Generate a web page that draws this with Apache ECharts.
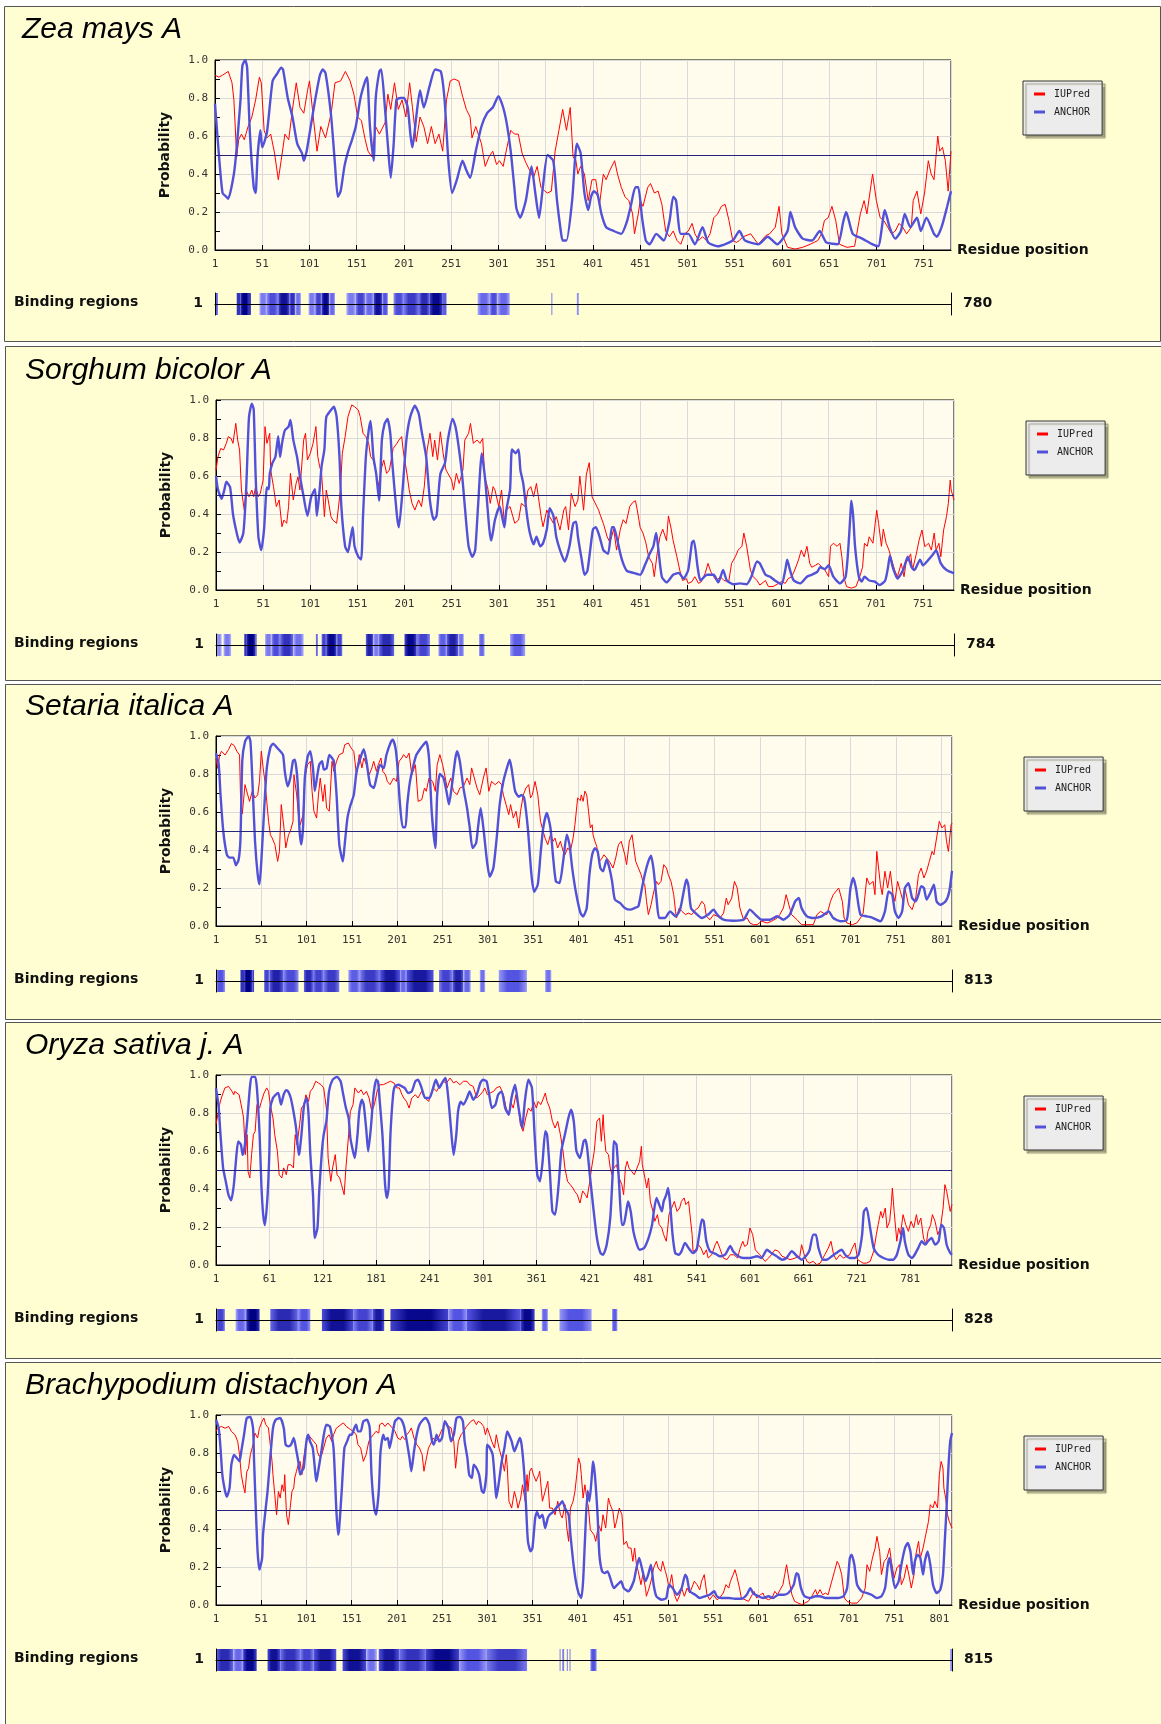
<!DOCTYPE html>
<html><head><meta charset="utf-8">
<script src="https://cdn.jsdelivr.net/npm/echarts@6/dist/echarts.min.js"></script>
<style>html,body{margin:0;padding:0;background:#ffffff}#c{width:1161px;height:1724px}</style>
</head><body><div id="c"></div>
<script>
// ---------------- DATA ----------------
const speciesNames = ['Zea mays A', 'Sorghum bicolor A', 'Setaria italica A', 'Oryza sativa j. A', 'Brachypodium distachyon A'];
const seqLengths = [780, 784, 813, 828, 815];
const tickIntervals = [50, 50, 50, 60, 50];
const seriesNames = ['IUPred', 'ANCHOR'];
const thresholdValue = 0.5;

const zeaIUPred = [[1,0.92],[5,0.91],[9,0.92],[15,0.94],[19,0.88],[21,0.79],[24,0.49],[26,0.58],[29,0.61],[32,0.58],[36,0.65],[40,0.70],[44,0.79],[48,0.91],[50,0.88],[53,0.63],[56,0.59],[60,0.61],[64,0.51],[68,0.37],[71,0.47],[75,0.61],[79,0.58],[83,0.74],[87,0.88],[91,0.75],[95,0.72],[99,0.84],[101,0.89],[105,0.70],[109,0.52],[113,0.65],[118,0.59],[124,0.72],[128,0.88],[134,0.89],[139,0.94],[144,0.89],[148,0.82],[152,0.70],[156,0.68],[160,0.58],[163,0.52],[167,0.49],[171,0.65],[175,0.61],[181,0.67],[184,0.82],[187,0.74],[191,0.88],[195,0.74],[199,0.79],[203,0.70],[207,0.88],[210,0.75],[214,0.57],[218,0.70],[222,0.65],[226,0.56],[230,0.65],[234,0.56],[238,0.61],[242,0.52],[246,0.79],[250,0.89],[254,0.90],[259,0.89],[263,0.81],[267,0.74],[271,0.70],[273,0.59],[277,0.65],[283,0.56],[287,0.44],[291,0.49],[295,0.52],[299,0.45],[302,0.47],[306,0.44],[310,0.54],[314,0.63],[318,0.61],[322,0.61],[326,0.51],[330,0.46],[334,0.42],[338,0.38],[342,0.44],[346,0.33],[350,0.31],[353,0.30],[357,0.31],[361,0.52],[365,0.63],[369,0.74],[373,0.63],[377,0.75],[380,0.49],[383,0.47],[385,0.40],[388,0.44],[392,0.40],[396,0.26],[400,0.37],[404,0.37],[408,0.24],[412,0.40],[415,0.37],[419,0.42],[424,0.47],[427,0.40],[431,0.33],[435,0.28],[439,0.26],[443,0.19],[445,0.085],[449,0.19],[451,0.26],[454,0.23],[459,0.33],[462,0.35],[466,0.30],[470,0.31],[474,0.24],[478,0.10],[482,0.07],[486,0.10],[490,0.05],[494,0.03],[498,0.085],[502,0.10],[506,0.14],[509,0.085],[513,0.05],[517,0.07],[521,0.05],[525,0.085],[529,0.17],[533,0.19],[537,0.23],[541,0.24],[545,0.155],[549,0.05],[553,0.04],[556,0.05],[560,0.07],[568,0.085],[576,0.03],[584,0.076],[588,0.085],[594,0.12],[598,0.23],[601,0.085],[607,0.014],[615,0.005],[623,0.014],[631,0.03],[639,0.05],[643,0.085],[646,0.155],[650,0.17],[654,0.23],[656,0.24],[658,0.155],[662,0.03],[670,0.014],[678,0.02],[684,0.19],[688,0.26],[691,0.19],[697,0.40],[701,0.26],[705,0.17],[709,0.155],[713,0.12],[717,0.085],[721,0.10],[725,0.14],[729,0.12],[733,0.085],[738,0.12],[740,0.26],[744,0.31],[748,0.19],[752,0.30],[756,0.47],[759,0.40],[762,0.37],[766,0.60],[768,0.52],[771,0.54],[774,0.47],[777,0.31],[780,0.52]];
const zeaANCHOR = [[1,0.77],[5,0.51],[9,0.30],[13,0.28],[15,0.27],[21,0.40],[24,0.54],[28,0.79],[30,0.97],[33,1.0],[35,0.96],[38,0.61],[42,0.33],[44,0.30],[46,0.49],[49,0.63],[51,0.54],[56,0.62],[62,0.89],[67,0.93],[71,0.96],[73,0.95],[78,0.80],[83,0.70],[88,0.56],[93,0.51],[95,0.47],[98,0.52],[101,0.61],[107,0.79],[112,0.92],[115,0.95],[118,0.93],[124,0.70],[128,0.45],[131,0.28],[134,0.31],[138,0.44],[142,0.52],[146,0.58],[150,0.65],[155,0.80],[160,0.89],[162,0.91],[165,0.65],[169,0.47],[171,0.79],[175,0.94],[177,0.95],[181,0.74],[184,0.55],[187,0.38],[190,0.55],[193,0.79],[197,0.80],[201,0.80],[205,0.75],[208,0.60],[210,0.54],[214,0.70],[218,0.84],[222,0.75],[228,0.86],[234,0.95],[240,0.94],[244,0.79],[248,0.47],[252,0.30],[257,0.37],[263,0.47],[267,0.42],[271,0.38],[277,0.52],[283,0.65],[289,0.72],[295,0.75],[301,0.81],[306,0.75],[310,0.66],[314,0.52],[318,0.32],[320,0.22],[324,0.17],[330,0.26],[336,0.44],[340,0.30],[344,0.17],[348,0.33],[353,0.50],[359,0.47],[363,0.26],[367,0.10],[369,0.05],[373,0.05],[379,0.26],[384,0.56],[388,0.51],[392,0.30],[396,0.21],[399,0.28],[402,0.31],[406,0.29],[410,0.19],[415,0.12],[423,0.10],[431,0.085],[437,0.15],[441,0.23],[446,0.33],[449,0.33],[453,0.17],[457,0.05],[461,0.03],[468,0.085],[476,0.05],[482,0.15],[486,0.28],[489,0.26],[494,0.085],[502,0.085],[509,0.03],[517,0.12],[523,0.04],[533,0.02],[549,0.05],[556,0.10],[562,0.05],[576,0.03],[586,0.07],[596,0.03],[607,0.10],[610,0.20],[615,0.12],[623,0.06],[633,0.05],[641,0.10],[648,0.04],[660,0.03],[666,0.15],[669,0.20],[676,0.085],[686,0.06],[697,0.03],[703,0.02],[710,0.21],[715,0.12],[721,0.06],[727,0.10],[731,0.19],[737,0.12],[744,0.17],[748,0.10],[754,0.17],[762,0.085],[765,0.07],[770,0.12],[776,0.23],[780,0.31]];
const zeaBinding = [[1,4,0.45],[24,28,0.7],[28,37,1.0],[37,39,0.7],[48,56,0.3],[56,68,0.55],[68,80,0.9],[80,86,0.7],[86,92,0.35],[100,107,0.3],[107,114,0.6],[114,122,0.95],[122,128,0.4],[140,150,0.3],[150,160,0.6],[160,169,0.4],[169,178,0.9],[178,184,0.5],[190,201,0.55],[201,217,0.65],[217,228,0.75],[228,242,0.95],[242,246,0.45],[279,292,0.4],[292,300,0.55],[300,313,0.4],[357,358,0.3],[384,386,0.2]];

const sorghumIUPred = [[1,0.63],[3,0.70],[6,0.745],[9,0.737],[12,0.772],[14,0.807],[17,0.798],[19,0.772],[22,0.877],[24,0.789],[26,0.737],[28,0.526],[31,0.421],[33,0.526],[36,0.491],[39,0.526],[41,0.491],[43,0.544],[46,0.491],[48,0.509],[51,0.579],[53,0.86],[55,0.772],[58,0.825],[59,0.632],[62,0.544],[65,0.439],[68,0.474],[71,0.333],[73,0.368],[76,0.351],[78,0.439],[80,0.614],[83,0.474],[86,0.561],[88,0.596],[90,0.526],[94,0.789],[96,0.825],[98,0.684],[101,0.719],[104,0.772],[107,0.86],[109,0.702],[111,0.649],[113,0.614],[116,0.386],[118,0.526],[120,0.474],[123,0.386],[125,0.368],[129,0.351],[133,0.526],[135,0.719],[138,0.807],[141,0.912],[145,0.974],[148,0.965],[152,0.947],[154,0.912],[157,0.825],[160,0.807],[163,0.772],[165,0.702],[168,0.684],[171,0.614],[173,0.544],[177,0.649],[179,0.684],[182,0.614],[185,0.632],[189,0.745],[193,0.772],[195,0.789],[198,0.807],[200,0.719],[203,0.632],[206,0.526],[209,0.456],[212,0.421],[216,0.474],[219,0.439],[222,0.544],[225,0.737],[228,0.825],[231,0.702],[233,0.789],[236,0.684],[239,0.833],[242,0.719],[245,0.632],[247,0.614],[251,0.579],[253,0.526],[256,0.614],[259,0.561],[263,0.632],[265,0.789],[269,0.825],[271,0.877],[274,0.772],[278,0.789],[281,0.772],[284,0.798],[286,0.596],[289,0.544],[292,0.456],[295,0.544],[297,0.526],[301,0.439],[304,0.526],[307,0.351],[309,0.421],[313,0.439],[316,0.386],[318,0.351],[322,0.368],[325,0.456],[329,0.439],[332,0.526],[335,0.544],[338,0.491],[341,0.561],[343,0.491],[346,0.386],[348,0.333],[352,0.421],[355,0.386],[359,0.351],[362,0.386],[366,0.316],[370,0.421],[372,0.439],[375,0.316],[378,0.509],[382,0.439],[385,0.474],[387,0.60],[391,0.42],[394,0.61],[397,0.67],[400,0.49],[403,0.46],[407,0.42],[409,0.39],[412,0.35],[416,0.28],[419,0.25],[423,0.32],[426,0.21],[430,0.32],[433,0.37],[436,0.35],[440,0.44],[443,0.46],[446,0.47],[448,0.42],[451,0.33],[454,0.30],[457,0.25],[460,0.175],[464,0.14],[466,0.07],[469,0.19],[472,0.28],[475,0.32],[479,0.26],[481,0.39],[484,0.32],[486,0.26],[490,0.175],[493,0.105],[496,0.05],[500,0.06],[502,0.035],[506,0.044],[509,0.07],[513,0.035],[516,0.044],[520,0.088],[523,0.14],[526,0.096],[529,0.07],[532,0.05],[536,0.07],[540,0.05],[545,0.044],[548,0.14],[552,0.175],[555,0.21],[559,0.23],[561,0.30],[564,0.23],[568,0.105],[571,0.07],[575,0.05],[578,0.026],[584,0.05],[587,0.018],[592,0.018],[598,0.035],[601,0.044],[605,0.035],[608,0.06],[612,0.07],[615,0.105],[619,0.158],[622,0.21],[625,0.175],[628,0.23],[631,0.14],[633,0.12],[637,0.13],[640,0.14],[644,0.12],[647,0.105],[651,0.07],[653,0.23],[656,0.246],[660,0.23],[663,0.246],[665,0.175],[667,0.07],[670,0.018],[675,0.01],[680,0.018],[684,0.07],[687,0.12],[689,0.246],[692,0.23],[694,0.28],[698,0.246],[702,0.42],[704,0.35],[707,0.23],[709,0.32],[712,0.246],[715,0.21],[717,0.175],[721,0.105],[724,0.07],[728,0.14],[731,0.07],[733,0.14],[738,0.19],[740,0.105],[744,0.19],[747,0.263],[750,0.316],[753,0.228],[757,0.246],[760,0.21],[763,0.30],[765,0.21],[768,0.246],[770,0.175],[773,0.316],[776,0.386],[778,0.456],[780,0.579],[781,0.526],[784,0.474]];
const sorghumANCHOR = [[1,0.60],[3,0.53],[7,0.48],[10,0.53],[12,0.57],[16,0.54],[19,0.40],[23,0.30],[26,0.25],[30,0.30],[33,0.53],[36,0.91],[39,0.98],[41,0.95],[43,0.61],[46,0.28],[49,0.21],[52,0.32],[55,0.54],[57,0.53],[58,0.61],[61,0.67],[64,0.70],[67,0.81],[69,0.70],[71,0.77],[74,0.84],[78,0.86],[80,0.895],[83,0.79],[87,0.70],[90,0.60],[94,0.49],[98,0.39],[102,0.49],[106,0.53],[108,0.39],[111,0.53],[113,0.65],[116,0.74],[118,0.91],[123,0.947],[126,0.965],[129,0.91],[132,0.70],[134,0.44],[138,0.23],[141,0.20],[144,0.28],[146,0.33],[148,0.23],[152,0.175],[155,0.16],[157,0.39],[160,0.70],[163,0.84],[165,0.89],[168,0.70],[171,0.61],[174,0.47],[177,0.79],[180,0.877],[183,0.90],[186,0.82],[188,0.67],[193,0.39],[195,0.33],[199,0.53],[203,0.79],[207,0.91],[212,0.97],[216,0.93],[219,0.84],[224,0.70],[228,0.47],[232,0.37],[235,0.39],[239,0.61],[244,0.67],[247,0.79],[252,0.90],[255,0.86],[258,0.77],[262,0.61],[265,0.44],[269,0.23],[273,0.175],[276,0.21],[279,0.44],[283,0.72],[285,0.65],[287,0.56],[291,0.32],[293,0.26],[297,0.37],[302,0.44],[304,0.40],[307,0.33],[309,0.42],[313,0.53],[315,0.74],[319,0.72],[322,0.74],[324,0.63],[327,0.56],[331,0.39],[334,0.30],[338,0.24],[341,0.28],[345,0.23],[348,0.246],[352,0.32],[355,0.43],[359,0.39],[362,0.28],[366,0.21],[371,0.15],[376,0.23],[380,0.35],[383,0.36],[385,0.28],[389,0.16],[392,0.08],[395,0.10],[398,0.21],[401,0.32],[404,0.33],[408,0.28],[412,0.21],[417,0.19],[421,0.33],[423,0.33],[426,0.28],[430,0.19],[433,0.14],[437,0.10],[444,0.09],[451,0.08],[456,0.13],[461,0.19],[465,0.23],[468,0.30],[470,0.23],[474,0.07],[479,0.04],[486,0.08],[492,0.09],[497,0.06],[502,0.105],[506,0.25],[508,0.26],[512,0.12],[515,0.05],[522,0.08],[529,0.08],[534,0.04],[539,0.105],[543,0.05],[550,0.03],[557,0.035],[564,0.03],[569,0.07],[575,0.15],[578,0.14],[584,0.08],[589,0.07],[594,0.05],[601,0.03],[605,0.105],[607,0.16],[610,0.105],[614,0.05],[621,0.035],[628,0.07],[633,0.08],[639,0.096],[642,0.12],[647,0.11],[651,0.13],[656,0.07],[663,0.035],[669,0.07],[672,0.23],[674,0.39],[675,0.47],[677,0.39],[679,0.23],[683,0.07],[686,0.044],[689,0.07],[694,0.05],[700,0.044],[705,0.026],[711,0.05],[714,0.12],[716,0.18],[719,0.12],[724,0.06],[730,0.105],[735,0.175],[739,0.12],[742,0.105],[748,0.16],[751,0.13],[757,0.16],[762,0.19],[765,0.21],[770,0.14],[776,0.105],[784,0.088]];
const sorghumBinding = [[1,7,0.2],[9,17,0.3],[31,33,0.7],[33,43,1.0],[43,44,0.6],[53,60,0.3],[60,69,0.55],[69,83,0.7],[83,94,0.35],[107,109,0.4],[113,118,0.6],[118,129,0.95],[129,135,0.6],[160,168,0.8],[168,174,0.3],[174,190,0.75],[201,214,0.95],[214,228,0.6],[237,246,0.45],[246,258,0.8],[258,264,0.35],[280,286,0.4],[313,329,0.45]];

const setariaIUPred = [[1,0.88],[3,0.83],[5,0.90],[7,0.92],[11,0.90],[15,0.93],[18,0.96],[21,0.95],[24,0.92],[27,0.90],[28,0.69],[30,0.59],[33,0.744],[36,0.69],[38,0.656],[41,0.709],[44,0.674],[47,0.69],[49,0.761],[51,0.92],[53,0.832],[55,0.761],[57,0.656],[59,0.551],[61,0.48],[63,0.463],[66,0.428],[69,0.34],[71,0.393],[73,0.639],[76,0.516],[78,0.411],[81,0.48],[83,0.498],[86,0.551],[87,0.796],[90,0.69],[92,0.586],[94,0.533],[97,0.586],[99,0.779],[102,0.849],[105,0.867],[107,0.709],[109,0.604],[112,0.568],[114,0.69],[116,0.779],[119,0.656],[121,0.744],[123,0.621],[126,0.604],[129,0.867],[131,0.814],[134,0.867],[137,0.902],[141,0.91],[143,0.954],[147,0.963],[150,0.937],[153,0.919],[156,0.796],[159,0.902],[162,0.832],[164,0.884],[167,0.849],[170,0.796],[173,0.832],[175,0.867],[178,0.814],[180,0.849],[183,0.884],[185,0.814],[188,0.796],[190,0.761],[193,0.744],[197,0.779],[200,0.761],[203,0.867],[206,0.884],[208,0.902],[211,0.884],[214,0.91],[217,0.796],[221,0.849],[224,0.656],[228,0.665],[231,0.726],[233,0.709],[236,0.779],[240,0.761],[243,0.709],[245,0.849],[248,0.902],[251,0.849],[254,0.779],[256,0.726],[260,0.779],[263,0.709],[267,0.691],[270,0.726],[274,0.735],[278,0.779],[281,0.744],[283,0.832],[286,0.779],[289,0.726],[292,0.691],[296,0.779],[299,0.832],[302,0.709],[305,0.761],[309,0.744],[313,0.761],[316,0.744],[318,0.691],[321,0.639],[324,0.586],[326,0.639],[329,0.568],[332,0.604],[335,0.516],[337,0.604],[340,0.69],[343,0.726],[346,0.744],[348,0.674],[350,0.691],[353,0.761],[356,0.691],[359,0.551],[361,0.516],[364,0.463],[367,0.428],[370,0.481],[373,0.446],[375,0.463],[378,0.411],[381,0.446],[384,0.393],[386,0.375],[389,0.411],[392,0.393],[395,0.463],[397,0.533],[400,0.674],[403,0.66],[404,0.69],[406,0.656],[408,0.71],[410,0.69],[412,0.604],[414,0.516],[416,0.533],[417,0.48],[419,0.446],[421,0.42],[424,0.34],[427,0.358],[429,0.375],[432,0.358],[435,0.34],[439,0.305],[442,0.358],[445,0.428],[448,0.446],[450,0.411],[452,0.375],[454,0.323],[457,0.446],[460,0.48],[462,0.411],[464,0.34],[467,0.305],[470,0.27],[472,0.235],[474,0.218],[476,0.13],[478,0.06],[481,0.112],[484,0.182],[487,0.235],[489,0.218],[492,0.235],[495,0.323],[498,0.305],[500,0.27],[503,0.235],[506,0.165],[508,0.077],[509,0.042],[512,0.095],[515,0.077],[519,0.06],[522,0.068],[526,0.06],[530,0.086],[533,0.095],[537,0.13],[540,0.112],[542,0.051],[546,0.033],[550,0.06],[554,0.051],[557,0.042],[561,0.068],[564,0.147],[566,0.112],[570,0.147],[573,0.235],[576,0.2],[579,0.095],[583,0.033],[587,0.042],[590,0.016],[594,0.007],[598,0.007],[603,0.025],[609,0.016],[614,0.025],[620,0.042],[623,0.06],[627,0.095],[630,0.165],[633,0.112],[636,0.06],[642,0.033],[647,0.007],[653,0.007],[660,0.007],[664,0.06],[668,0.077],[671,0.068],[675,0.06],[679,0.13],[682,0.165],[684,0.156],[688,0.2],[692,0.13],[694,0.042],[697,0.016],[703,0.007],[708,0.016],[712,0.042],[715,0.068],[719,0.253],[722,0.218],[726,0.235],[728,0.165],[730,0.393],[732,0.305],[734,0.218],[736,0.165],[739,0.288],[742,0.2],[745,0.288],[748,0.165],[750,0.13],[753,0.235],[756,0.182],[759,0.13],[761,0.2],[765,0.112],[769,0.086],[773,0.147],[776,0.27],[779,0.305],[782,0.253],[785,0.288],[788,0.34],[791,0.393],[793,0.375],[796,0.463],[799,0.551],[802,0.516],[805,0.533],[807,0.446],[809,0.393],[812,0.533],[813,0.541]];
const setariaANCHOR = [[1,0.91],[4,0.85],[6,0.69],[9,0.50],[13,0.375],[16,0.36],[20,0.36],[23,0.32],[26,0.35],[28,0.46],[30,0.87],[33,0.97],[37,1.0],[39,0.97],[41,0.78],[44,0.45],[47,0.27],[49,0.22],[51,0.34],[54,0.60],[57,0.83],[61,0.94],[64,0.96],[68,0.94],[72,0.92],[75,0.90],[77,0.81],[80,0.735],[83,0.78],[86,0.87],[88,0.875],[91,0.76],[93,0.516],[95,0.43],[97,0.516],[99,0.78],[102,0.89],[105,0.92],[108,0.83],[110,0.71],[113,0.80],[115,0.85],[118,0.867],[120,0.823],[123,0.83],[126,0.90],[129,0.884],[131,0.867],[134,0.69],[137,0.43],[141,0.34],[143,0.43],[146,0.568],[149,0.63],[153,0.69],[156,0.81],[160,0.88],[164,0.93],[167,0.867],[171,0.744],[175,0.726],[178,0.78],[182,0.849],[186,0.83],[189,0.90],[194,0.97],[196,0.98],[199,0.937],[201,0.849],[204,0.64],[207,0.52],[210,0.52],[212,0.64],[215,0.76],[219,0.849],[222,0.90],[226,0.93],[230,0.955],[233,0.97],[236,0.884],[239,0.60],[243,0.41],[245,0.69],[248,0.80],[252,0.78],[256,0.69],[258,0.64],[261,0.73],[265,0.88],[267,0.92],[270,0.867],[274,0.726],[278,0.62],[281,0.516],[284,0.41],[288,0.437],[290,0.516],[293,0.62],[296,0.516],[300,0.34],[303,0.26],[307,0.305],[311,0.48],[314,0.64],[318,0.76],[322,0.832],[325,0.875],[327,0.832],[331,0.71],[335,0.68],[338,0.69],[341,0.674],[345,0.516],[349,0.27],[352,0.18],[356,0.218],[359,0.375],[362,0.516],[366,0.595],[370,0.516],[373,0.358],[376,0.235],[380,0.226],[384,0.34],[388,0.48],[391,0.428],[394,0.305],[398,0.18],[403,0.07],[406,0.05],[410,0.095],[413,0.27],[416,0.375],[419,0.41],[422,0.393],[425,0.305],[428,0.288],[432,0.35],[435,0.305],[438,0.235],[441,0.14],[447,0.12],[452,0.095],[458,0.086],[463,0.095],[467,0.104],[471,0.2],[474,0.27],[478,0.34],[481,0.37],[484,0.288],[487,0.147],[490,0.042],[496,0.042],[502,0.077],[508,0.051],[513,0.086],[517,0.182],[520,0.245],[522,0.218],[525,0.095],[530,0.068],[537,0.042],[544,0.06],[550,0.086],[554,0.06],[561,0.033],[572,0.028],[583,0.033],[590,0.086],[596,0.06],[603,0.033],[612,0.033],[620,0.051],[627,0.033],[634,0.06],[640,0.13],[644,0.147],[647,0.095],[653,0.051],[660,0.042],[669,0.051],[677,0.077],[682,0.042],[690,0.025],[697,0.033],[701,0.2],[704,0.253],[707,0.2],[712,0.06],[719,0.051],[726,0.042],[734,0.025],[739,0.077],[743,0.182],[747,0.165],[750,0.077],[754,0.042],[758,0.077],[761,0.2],[765,0.225],[769,0.147],[773,0.13],[776,0.165],[779,0.21],[782,0.2],[785,0.139],[789,0.174],[793,0.218],[796,0.13],[800,0.112],[806,0.13],[810,0.182],[813,0.29]];
const setariaBinding = [[1,11,0.5],[28,32,0.7],[32,41,1.0],[41,43,0.6],[54,60,0.6],[60,75,0.8],[75,92,0.55],[98,108,0.75],[108,120,0.6],[120,137,0.65],[147,160,0.45],[160,182,0.65],[182,204,0.85],[204,211,0.4],[211,241,0.85],[247,262,0.6],[262,274,0.8],[274,282,0.4],[292,298,0.35],[313,344,0.5],[364,371,0.35]];

const oryzaIUPred = [[1,0.739],[3,0.791],[5,0.844],[7,0.879],[11,0.932],[15,0.94],[19,0.914],[21,0.896],[22,0.914],[24,0.905],[27,0.896],[30,0.826],[32,0.774],[34,0.581],[36,0.686],[37,0.493],[39,0.458],[41,0.581],[43,0.686],[45,0.704],[47,0.844],[50,0.826],[52,0.861],[55,0.905],[58,0.932],[60,0.914],[62,0.844],[65,0.774],[67,0.686],[70,0.598],[72,0.475],[75,0.458],[77,0.511],[80,0.475],[82,0.528],[85,0.528],[88,0.511],[90,0.686],[92,0.633],[95,0.739],[97,0.826],[100,0.844],[102,0.896],[105,0.861],[107,0.914],[110,0.932],[113,0.967],[116,0.958],[119,0.949],[122,0.932],[125,0.826],[127,0.563],[130,0.44],[132,0.511],[135,0.581],[137,0.475],[140,0.458],[142,0.423],[145,0.37],[147,0.511],[150,0.686],[152,0.809],[155,0.844],[157,0.932],[161,0.905],[164,0.922],[167,0.896],[170,0.914],[173,0.879],[176,0.809],[179,0.844],[182,0.914],[185,0.949],[189,0.949],[193,0.958],[197,0.967],[201,0.958],[204,0.932],[207,0.932],[210,0.896],[212,0.879],[215,0.861],[218,0.826],[221,0.879],[225,0.896],[228,0.879],[232,0.914],[236,0.879],[240,0.861],[242,0.896],[245,0.932],[249,0.914],[253,0.949],[256,0.967],[260,0.958],[264,0.984],[268,0.958],[271,0.967],[275,0.949],[279,0.967],[283,0.967],[286,0.949],[290,0.94],[294,0.879],[298,0.896],[301,0.914],[303,0.932],[306,0.896],[309,0.905],[313,0.914],[316,0.932],[320,0.94],[324,0.896],[327,0.826],[330,0.791],[332,0.861],[335,0.826],[338,0.896],[341,0.826],[343,0.739],[346,0.704],[349,0.774],[352,0.826],[355,0.809],[358,0.861],[361,0.826],[363,0.861],[366,0.844],[369,0.879],[371,0.905],[373,0.861],[376,0.826],[379,0.756],[382,0.721],[385,0.756],[388,0.686],[391,0.598],[393,0.511],[396,0.44],[399,0.423],[402,0.405],[404,0.388],[407,0.37],[410,0.326],[413,0.39],[416,0.37],[418,0.353],[421,0.44],[423,0.51],[426,0.598],[429,0.756],[432,0.774],[434,0.651],[436,0.791],[437,0.704],[439,0.598],[442,0.581],[444,0.51],[446,0.475],[448,0.51],[451,0.528],[454,0.458],[457,0.423],[459,0.37],[461,0.51],[463,0.546],[465,0.51],[468,0.493],[471,0.475],[474,0.51],[477,0.546],[479,0.625],[480,0.528],[483,0.458],[485,0.405],[487,0.458],[489,0.335],[492,0.282],[494,0.23],[497,0.265],[499,0.212],[502,0.195],[504,0.16],[507,0.125],[509,0.212],[510,0.265],[513,0.30],[516,0.335],[519,0.282],[522,0.30],[524,0.335],[527,0.353],[529,0.318],[532,0.335],[534,0.247],[536,0.16],[537,0.072],[540,0.08],[543,0.107],[546,0.089],[549,0.054],[552,0.08],[554,0.037],[558,0.054],[562,0.107],[564,0.125],[567,0.089],[571,0.037],[575,0.028],[579,0.054],[583,0.054],[587,0.037],[590,0.089],[593,0.125],[595,0.098],[598,0.107],[601,0.195],[604,0.16],[607,0.08],[609,0.072],[612,0.054],[615,0.037],[618,0.019],[622,0.037],[625,0.054],[629,0.08],[633,0.072],[637,0.046],[642,0.037],[646,0.028],[652,0.037],[657,0.046],[659,0.107],[662,0.054],[665,0.019],[668,0.01],[672,0.019],[676,0.002],[680,0.01],[685,0.054],[689,0.089],[692,0.125],[695,0.054],[698,0.028],[702,0.054],[706,0.037],[710,0.046],[713,0.054],[716,0.089],[719,0.116],[722,0.028],[725,0.019],[728,0.01],[732,0.01],[736,0.019],[740,0.072],[743,0.16],[745,0.212],[748,0.282],[750,0.247],[753,0.30],[755,0.195],[758,0.23],[760,0.335],[761,0.405],[763,0.282],[766,0.125],[768,0.195],[770,0.16],[773,0.265],[776,0.212],[779,0.177],[782,0.23],[785,0.195],[788,0.265],[790,0.212],[793,0.247],[796,0.142],[799,0.107],[801,0.177],[804,0.212],[806,0.265],[809,0.23],[812,0.16],[815,0.195],[818,0.30],[820,0.423],[822,0.388],[824,0.335],[826,0.282],[828,0.318]];
const oryzaANCHOR = [[1,0.93],[4,0.83],[6,0.69],[9,0.51],[12,0.44],[15,0.37],[18,0.34],[21,0.42],[24,0.58],[26,0.65],[29,0.633],[31,0.58],[33,0.616],[36,0.756],[39,0.93],[41,0.99],[45,0.99],[47,0.93],[50,0.686],[52,0.42],[54,0.265],[56,0.21],[59,0.37],[61,0.60],[62,0.826],[65,0.879],[68,0.896],[71,0.905],[74,0.844],[77,0.896],[80,0.92],[82,0.914],[85,0.879],[88,0.809],[91,0.72],[94,0.58],[95,0.598],[97,0.686],[100,0.844],[103,0.879],[105,0.791],[107,0.581],[110,0.37],[112,0.142],[115,0.195],[117,0.388],[120,0.598],[122,0.686],[125,0.756],[128,0.914],[132,0.975],[137,0.99],[141,0.967],[144,0.896],[147,0.826],[150,0.774],[152,0.668],[155,0.598],[157,0.563],[160,0.686],[162,0.809],[165,0.87],[167,0.844],[170,0.704],[172,0.598],[175,0.721],[178,0.896],[181,0.975],[183,0.967],[185,0.861],[188,0.686],[191,0.423],[193,0.353],[195,0.405],[197,0.686],[200,0.896],[202,0.94],[206,0.949],[210,0.94],[213,0.932],[217,0.905],[221,0.914],[225,0.967],[228,0.975],[232,0.932],[236,0.879],[241,0.879],[245,0.932],[248,0.975],[252,0.932],[256,0.967],[259,0.984],[262,0.879],[265,0.72],[268,0.58],[271,0.686],[273,0.809],[276,0.86],[279,0.844],[283,0.879],[286,0.914],[290,0.87],[294,0.896],[298,0.958],[301,0.975],[305,0.967],[308,0.896],[311,0.826],[315,0.844],[318,0.896],[322,0.914],[326,0.826],[330,0.791],[333,0.879],[337,0.949],[341,0.826],[345,0.721],[348,0.861],[352,0.975],[356,0.932],[359,0.686],[362,0.475],[365,0.44],[368,0.546],[371,0.704],[373,0.686],[376,0.5],[379,0.282],[382,0.265],[386,0.423],[389,0.60],[393,0.686],[397,0.774],[400,0.817],[403,0.756],[406,0.60],[410,0.563],[414,0.65],[416,0.659],[418,0.616],[421,0.475],[425,0.30],[429,0.142],[433,0.063],[436,0.054],[440,0.107],[444,0.247],[447,0.51],[448,0.651],[451,0.633],[454,0.423],[457,0.212],[459,0.212],[462,0.282],[464,0.335],[467,0.282],[470,0.177],[474,0.107],[477,0.08],[482,0.089],[487,0.142],[491,0.212],[493,0.282],[496,0.353],[499,0.318],[502,0.282],[504,0.335],[507,0.37],[509,0.405],[511,0.335],[514,0.16],[517,0.063],[521,0.054],[524,0.072],[528,0.116],[532,0.089],[537,0.063],[541,0.08],[544,0.16],[547,0.24],[549,0.23],[552,0.125],[556,0.072],[560,0.063],[564,0.054],[567,0.046],[573,0.054],[579,0.10],[582,0.072],[588,0.046],[594,0.037],[601,0.037],[609,0.046],[614,0.037],[620,0.08],[625,0.063],[631,0.046],[637,0.028],[642,0.037],[648,0.072],[654,0.046],[659,0.028],[665,0.054],[668,0.08],[672,0.16],[675,0.16],[678,0.089],[683,0.028],[687,0.028],[693,0.046],[698,0.063],[704,0.08],[708,0.054],[713,0.037],[719,0.037],[723,0.054],[727,0.16],[729,0.282],[732,0.30],[736,0.195],[740,0.089],[745,0.054],[751,0.037],[757,0.028],[762,0.028],[766,0.054],[770,0.125],[773,0.195],[775,0.125],[779,0.054],[783,0.037],[786,0.054],[790,0.089],[794,0.125],[798,0.107],[801,0.125],[805,0.142],[809,0.107],[813,0.125],[816,0.212],[819,0.195],[822,0.107],[826,0.063],[828,0.054]];
const oryzaBinding = [[1,11,0.6],[23,35,0.4],[35,50,1.0],[62,93,0.75],[93,107,0.5],[120,155,0.9],[155,177,0.6],[177,190,0.85],[197,262,0.95],[262,283,0.5],[283,343,0.85],[343,359,0.95],[367,374,0.4],[387,423,0.5],[446,452,0.45]];

const brachyIUPred = [[1,0.914],[3,0.93],[5,0.93],[7,0.94],[11,0.93],[15,0.94],[18,0.914],[22,0.896],[25,0.861],[27,0.791],[29,0.686],[31,0.633],[33,0.59],[35,0.70],[37,0.72],[39,0.791],[42,0.844],[44,0.905],[47,0.879],[49,0.93],[52,0.967],[54,0.984],[56,0.949],[59,0.932],[61,0.844],[63,0.756],[64,0.686],[66,0.581],[68,0.475],[70,0.598],[72,0.563],[74,0.633],[76,0.598],[77,0.686],[79,0.475],[81,0.423],[83,0.51],[85,0.598],[87,0.616],[88,0.668],[90,0.704],[92,0.739],[94,0.756],[96,0.686],[98,0.774],[101,0.861],[103,0.896],[106,0.879],[109,0.861],[112,0.844],[113,0.809],[115,0.783],[118,0.791],[120,0.826],[123,0.879],[126,0.896],[129,0.861],[131,0.896],[134,0.93],[136,0.94],[139,0.949],[142,0.958],[145,0.94],[147,0.932],[150,0.923],[153,0.914],[156,0.896],[158,0.844],[161,0.826],[164,0.756],[167,0.791],[170,0.861],[172,0.879],[175,0.896],[178,0.914],[181,0.905],[182,0.949],[185,0.958],[188,0.94],[191,0.958],[193,0.949],[196,0.932],[199,0.914],[202,0.879],[205,0.87],[207,0.888],[210,0.87],[212,0.896],[215,0.914],[217,0.932],[220,0.879],[223,0.844],[226,0.826],[229,0.791],[231,0.704],[233,0.756],[236,0.826],[238,0.844],[241,0.879],[244,0.861],[247,0.879],[250,0.914],[252,0.932],[255,0.967],[258,0.94],[261,0.932],[264,0.861],[266,0.72],[269,0.861],[272,0.896],[275,0.914],[278,0.94],[280,0.932],[283,0.967],[286,0.975],[289,0.949],[291,0.967],[294,0.958],[297,0.94],[299,0.896],[301,0.932],[303,0.905],[306,0.861],[309,0.826],[311,0.896],[314,0.826],[317,0.774],[320,0.704],[322,0.791],[323,0.739],[325,0.546],[328,0.51],[331,0.598],[333,0.563],[335,0.51],[338,0.563],[340,0.633],[343,0.546],[345,0.686],[346,0.598],[348,0.704],[350,0.721],[352,0.686],[355,0.651],[358,0.686],[359,0.704],[362,0.546],[365,0.598],[368,0.651],[370,0.51],[373,0.51],[376,0.475],[379,0.546],[382,0.475],[384,0.458],[387,0.528],[389,0.405],[391,0.335],[393,0.51],[396,0.546],[398,0.598],[400,0.686],[402,0.774],[404,0.74],[405,0.686],[407,0.563],[409,0.633],[411,0.563],[413,0.51],[415,0.396],[417,0.388],[419,0.37],[421,0.335],[424,0.423],[427,0.388],[429,0.475],[432,0.405],[435,0.563],[437,0.528],[440,0.493],[442,0.405],[444,0.44],[447,0.51],[450,0.475],[452,0.318],[455,0.335],[457,0.30],[460,0.30],[462,0.23],[464,0.30],[466,0.212],[468,0.177],[471,0.107],[473,0.16],[476,0.089],[477,0.046],[480,0.089],[483,0.142],[485,0.195],[488,0.23],[490,0.195],[493,0.177],[495,0.23],[498,0.177],[500,0.142],[502,0.089],[505,0.16],[508,0.054],[511,0.019],[514,0.054],[516,0.089],[519,0.046],[522,0.089],[525,0.063],[527,0.072],[530,0.125],[533,0.107],[536,0.08],[538,0.125],[541,0.16],[544,0.054],[547,0.028],[551,0.054],[555,0.028],[558,0.037],[562,0.063],[565,0.107],[568,0.089],[570,0.125],[573,0.16],[575,0.186],[577,0.151],[580,0.089],[582,0.037],[586,0.028],[590,0.019],[594,0.054],[596,0.072],[599,0.037],[603,0.054],[606,0.063],[608,0.037],[612,0.028],[616,0.037],[619,0.072],[622,0.054],[625,0.081],[628,0.107],[630,0.16],[632,0.212],[635,0.125],[638,0.054],[641,0.019],[645,0.01],[649,0.002],[652,0.01],[656,0.019],[660,0.046],[664,0.081],[666,0.054],[669,0.081],[672,0.054],[675,0.063],[678,0.054],[682,0.125],[685,0.177],[688,0.23],[690,0.212],[693,0.16],[696,0.037],[699,0.019],[704,0.01],[710,0.01],[715,0.037],[719,0.089],[721,0.212],[724,0.177],[727,0.247],[730,0.30],[732,0.361],[735,0.282],[737,0.16],[740,0.23],[743,0.247],[746,0.30],[748,0.23],[751,0.142],[754,0.195],[757,0.212],[759,0.107],[762,0.142],[765,0.212],[768,0.142],[770,0.089],[773,0.16],[775,0.265],[778,0.335],[780,0.247],[783,0.30],[786,0.37],[789,0.44],[791,0.528],[794,0.511],[796,0.546],[799,0.511],[801,0.686],[803,0.756],[805,0.721],[806,0.616],[808,0.563],[810,0.475],[812,0.44],[815,0.405]];
const brachyANCHOR = [[1,0.975],[4,0.93],[6,0.826],[8,0.686],[11,0.60],[13,0.57],[16,0.616],[18,0.739],[21,0.79],[24,0.774],[27,0.756],[29,0.81],[32,0.896],[35,0.984],[39,0.99],[42,0.93],[43,0.774],[45,0.51],[47,0.282],[49,0.186],[52,0.247],[53,0.37],[56,0.51],[58,0.598],[61,0.774],[64,0.93],[67,0.975],[72,0.984],[76,0.93],[78,0.844],[81,0.835],[84,0.844],[87,0.879],[90,0.809],[92,0.756],[94,0.686],[96,0.704],[98,0.721],[101,0.861],[103,0.896],[105,0.861],[108,0.826],[111,0.686],[112,0.651],[114,0.704],[117,0.791],[120,0.888],[123,0.949],[127,0.94],[131,0.826],[134,0.51],[136,0.37],[137,0.388],[140,0.598],[143,0.826],[146,0.861],[149,0.896],[151,0.896],[154,0.932],[156,0.949],[158,0.914],[161,0.914],[164,0.967],[168,0.975],[171,0.932],[173,0.686],[176,0.51],[178,0.475],[181,0.598],[183,0.809],[186,0.896],[188,0.87],[191,0.879],[193,0.826],[196,0.896],[199,0.967],[203,0.984],[206,0.975],[209,0.94],[212,0.861],[215,0.774],[217,0.704],[220,0.809],[223,0.896],[226,0.949],[230,0.975],[233,0.984],[237,0.949],[240,0.861],[242,0.844],[245,0.896],[248,0.861],[251,0.879],[254,0.967],[258,0.932],[261,0.861],[264,0.896],[267,0.984],[271,0.99],[274,0.967],[276,0.861],[279,0.774],[281,0.686],[284,0.668],[286,0.739],[289,0.721],[292,0.686],[295,0.60],[297,0.59],[300,0.686],[301,0.844],[304,0.826],[307,0.791],[310,0.616],[311,0.563],[314,0.651],[317,0.756],[320,0.826],[323,0.914],[325,0.896],[328,0.861],[331,0.809],[334,0.844],[337,0.879],[339,0.844],[342,0.686],[344,0.51],[346,0.335],[349,0.282],[351,0.30],[354,0.458],[356,0.49],[359,0.458],[362,0.475],[365,0.405],[368,0.458],[370,0.475],[374,0.49],[377,0.51],[381,0.528],[384,0.546],[387,0.51],[391,0.475],[393,0.37],[396,0.23],[399,0.125],[402,0.063],[405,0.037],[407,0.125],[409,0.335],[412,0.60],[414,0.546],[417,0.70],[418,0.756],[420,0.686],[423,0.475],[425,0.265],[428,0.177],[431,0.168],[434,0.177],[437,0.142],[441,0.089],[445,0.107],[449,0.125],[452,0.089],[457,0.072],[463,0.125],[466,0.195],[469,0.247],[472,0.195],[476,0.125],[479,0.16],[482,0.212],[485,0.107],[488,0.046],[494,0.028],[499,0.037],[502,0.107],[506,0.089],[511,0.054],[516,0.089],[520,0.16],[522,0.142],[525,0.072],[531,0.054],[536,0.037],[542,0.046],[547,0.054],[552,0.072],[555,0.046],[560,0.037],[568,0.037],[575,0.033],[582,0.033],[588,0.054],[592,0.089],[595,0.063],[601,0.046],[606,0.037],[612,0.046],[617,0.037],[623,0.054],[629,0.054],[634,0.063],[640,0.107],[643,0.168],[645,0.16],[648,0.089],[652,0.046],[658,0.037],[664,0.046],[669,0.046],[675,0.037],[682,0.037],[689,0.037],[695,0.046],[699,0.089],[702,0.247],[704,0.265],[707,0.212],[710,0.107],[715,0.072],[721,0.063],[726,0.054],[732,0.037],[737,0.046],[741,0.089],[744,0.212],[746,0.247],[748,0.195],[752,0.089],[756,0.125],[759,0.212],[763,0.30],[766,0.326],[769,0.282],[772,0.16],[774,0.23],[777,0.265],[780,0.247],[783,0.16],[785,0.23],[788,0.282],[791,0.212],[794,0.107],[798,0.063],[802,0.08],[805,0.16],[807,0.335],[809,0.511],[811,0.72],[813,0.861],[815,0.905]];
const brachyBinding = [[1,20,0.75],[20,31,0.4],[31,46,0.95],[58,72,0.9],[72,94,0.7],[94,109,0.6],[109,134,0.85],[141,167,0.9],[167,179,0.35],[181,204,0.85],[204,233,0.7],[233,270,0.95],[270,300,0.5],[300,345,0.65],[381,382,0.3],[384,386,0.3],[389,390,0.3],[392,393,0.3],[415,422,0.5],[813,815,0.2]];

const iupredSets = [zeaIUPred, sorghumIUPred, setariaIUPred, oryzaIUPred, brachyIUPred];
const anchorSets = [zeaANCHOR, sorghumANCHOR, setariaANCHOR, oryzaANCHOR, brachyANCHOR];
const bindingSets = [zeaBinding, sorghumBinding, setariaBinding, oryzaBinding, brachyBinding];

// ---------------- LAYOUT (pixels) ----------------
const layout = [
  {px: 4, py: 6,    pw: 1156, ph: 335, left: 215, top: 60,   right: 951, track: 293,  titleTop: 15,   titleLeft: 22},
  {px: 5, py: 346,  pw: 1170, ph: 334, left: 216, top: 400,  right: 954, track: 634,  titleTop: 356,  titleLeft: 25},
  {px: 5, py: 684,  pw: 1170, ph: 335, left: 216, top: 736,  right: 952, track: 970,  titleTop: 692,  titleLeft: 25},
  {px: 5, py: 1022, pw: 1170, ph: 336, left: 216, top: 1075, right: 952, track: 1309, titleTop: 1031, titleLeft: 25},
  {px: 5, py: 1362, pw: 1170, ph: 380, left: 216, top: 1415, right: 952, track: 1649, titleTop: 1371, titleLeft: 25}
];
const PLOT_H = 190, TRACK_H = 22;
const monoFont = 'DejaVu Sans Mono';
const boldFont = 'DejaVu Sans';

function shadeRGB(t) {
  const light = [182, 182, 255], mid = [84, 84, 226], dark = [0, 0, 130];
  let a, b, f;
  if (t < 0.5) { a = light; b = mid; f = t / 0.5; } else { a = mid; b = dark; f = (t - 0.5) / 0.5; }
  return 'rgb(' + a.map((v, k) => Math.round(v + (b[k] - v) * f)).join(',') + ')';
}
function blockFill(t) {
  const edge = shadeRGB(Math.max(0, t - 0.35));
  const core = shadeRGB(t);
  return new echarts.graphic.LinearGradient(0, 0, 1, 0, [
    {offset: 0, color: edge}, {offset: 0.3, color: core}, {offset: 0.7, color: core}, {offset: 1, color: edge}]);
}

const grids = [], xAxes = [], yAxes = [], series = [], titles = [], legends = [], graphics = [];

layout.forEach((L) => {
  graphics.push({type: 'rect', z: -10, silent: true, shape: {x: L.px + 0.5, y: L.py + 0.5, width: L.pw, height: L.ph},
    style: {fill: '#fffed3', stroke: '#555555', lineWidth: 1}});
});

layout.forEach((L, i) => {
  const len = seqLengths[i];
  grids.push({left: L.left, top: L.top, width: L.right - L.left, height: PLOT_H, show: true,
    backgroundColor: '#fffcee', borderColor: '#000', borderWidth: 1, containLabel: false, outerBoundsMode: 'none'});
  xAxes.push({type: 'value', gridIndex: i, min: 1, max: len, interval: tickIntervals[i],
    name: 'Residue position', nameLocation: 'end', nameGap: 6,
    nameTextStyle: {fontFamily: boldFont, fontWeight: 'bold', fontSize: 14, color: '#111', align: 'left', verticalAlign: 'middle', padding: [0, 0, 6, 0]},
    axisLine: {show: true, onZero: false, lineStyle: {color: '#000', width: 1}},
    axisTick: {show: true, inside: true, length: 5, lineStyle: {color: '#000'}},
    axisLabel: {show: true, margin: 9, fontFamily: monoFont, fontSize: 11, color: '#333', showMaxLabel: false, showMinLabel: true, hideOverlap: false},
    splitLine: {show: true, lineStyle: {color: '#dadada', width: 1}}});
  yAxes.push({type: 'value', gridIndex: i, min: 0, max: 1, interval: 0.2,
    name: 'Probability', nameLocation: 'middle', nameGap: 43,
    nameTextStyle: {fontFamily: boldFont, fontWeight: 'bold', fontSize: 14, color: '#111'},
    axisLine: {show: true, lineStyle: {color: '#000', width: 1}},
    axisTick: {show: true, inside: true, length: 5, lineStyle: {color: '#000'}},
    minorTick: {show: true, splitNumber: 2, length: 5, lineStyle: {color: '#000', width: 1}},
    axisLabel: {show: true, margin: 7, fontFamily: monoFont, fontSize: 11, color: '#333', formatter: v => v.toFixed(1)},
    splitLine: {show: true, lineStyle: {color: '#dadada', width: 1}}});
  series.push({name: seriesNames[0], type: 'line', xAxisIndex: i, yAxisIndex: i, data: iupredSets[i],
    showSymbol: false, symbol: 'none', z: 3, lineStyle: {color: '#ff0000', width: 1}, itemStyle: {color: '#ff0000'},
    emphasis: {disabled: true},
    markLine: {silent: true, symbol: ['none', 'none'], animation: false, label: {show: false},
      lineStyle: {color: '#24247c', width: 1, type: 'solid'}, data: [{yAxis: thresholdValue}]}});
  series.push({name: seriesNames[1], type: 'line', xAxisIndex: i, yAxisIndex: i, data: anchorSets[i],
    showSymbol: false, symbol: 'none', z: 4, smooth: 0.2, lineStyle: {color: '#5252d8', width: 2.4}, itemStyle: {color: '#5252d8'},
    emphasis: {disabled: true}});
  titles.push({text: speciesNames[i], left: L.titleLeft, top: L.titleTop, padding: 0,
    textStyle: {fontFamily: 'Liberation Sans', fontSize: 30, fontStyle: 'italic', fontWeight: 'normal', color: '#000'}});
  legends.push({data: seriesNames, orient: 'vertical', left: L.right + 72, top: L.top + 21,
    icon: 'rect', itemWidth: 11, itemHeight: 3, itemGap: 8, selectedMode: false,
    padding: [8, 12, 18, 11], backgroundColor: '#ececec', borderColor: '#333', borderWidth: 1,
    shadowColor: 'rgba(120,120,90,0.7)', shadowOffsetX: 3, shadowOffsetY: 3, shadowBlur: 1,
    textStyle: {fontFamily: monoFont, fontSize: 10, color: '#222', padding: [0, 0, 0, 4]}});
});

layout.forEach((L, i) => {
  const len = seqLengths[i];
  const g = 5 + i;
  grids.push({left: L.left, top: L.track, width: L.right - L.left, height: TRACK_H, show: false, containLabel: false, outerBoundsMode: 'none'});
  xAxes.push({type: 'value', gridIndex: g, min: 1, max: len, z: 10,
    axisLine: {show: true, onZero: true, lineStyle: {color: '#000', width: 1}},
    axisTick: {show: false}, axisLabel: {show: false}, splitLine: {show: false}});
  const yBase = {type: 'value', gridIndex: g, min: -1, max: 1, z: 10,
    axisTick: {show: false}, axisLabel: {show: false}, splitLine: {show: false},
    axisLine: {show: true, onZero: false, lineStyle: {color: '#000', width: 1}}};
  yAxes.push(Object.assign({position: 'left'}, yBase));
  yAxes.push(Object.assign({position: 'right'}, yBase));
  const yIdx = yAxes.length - 2;
  series.push({name: 'Binding regions', type: 'custom', xAxisIndex: 5 + i, yAxisIndex: yIdx, data: bindingSets[i],
    encode: {x: [0, 1]}, z: 2, silent: true,
    renderItem: function (params, api) {
      const p0 = api.coord([api.value(0), 1]);
      const p1 = api.coord([api.value(1), -1]);
      const w = Math.max(1, p1[0] - p0[0]);
      const t = api.value(2);
      return {type: 'rect', shape: {x: p0[0], y: p0[1], width: w, height: p1[1] - p0[1]},
        style: {fill: w > 4 ? blockFill(t) : shadeRGB(t)}};
    }});
  const cy = L.track + TRACK_H / 2 - 1;
  graphics.push({type: 'text', z: 100, silent: true, left: 14, top: cy - 8,
    style: {text: 'Binding regions', font: 'bold 14px "DejaVu Sans"', fill: '#111'}});
  graphics.push({type: 'text', z: 100, silent: true, x: L.left - 12, y: cy,
    style: {text: '1', font: 'bold 14px "DejaVu Sans"', fill: '#111', textAlign: 'right', textVerticalAlign: 'middle'}});
  graphics.push({type: 'text', z: 100, silent: true, x: L.right + 12, y: cy,
    style: {text: String(len), font: 'bold 14px "DejaVu Sans"', fill: '#111', textAlign: 'left', textVerticalAlign: 'middle'}});
});

const chart = echarts.init(document.getElementById('c'), null, {renderer: 'canvas', width: 1161, height: 1724});
chart.setOption({
  animation: false,
  backgroundColor: '#ffffff',
  title: titles,
  legend: legends,
  grid: grids,
  xAxis: xAxes,
  yAxis: yAxes,
  series: series,
  graphic: {elements: graphics}
});
</script>
</body></html>
